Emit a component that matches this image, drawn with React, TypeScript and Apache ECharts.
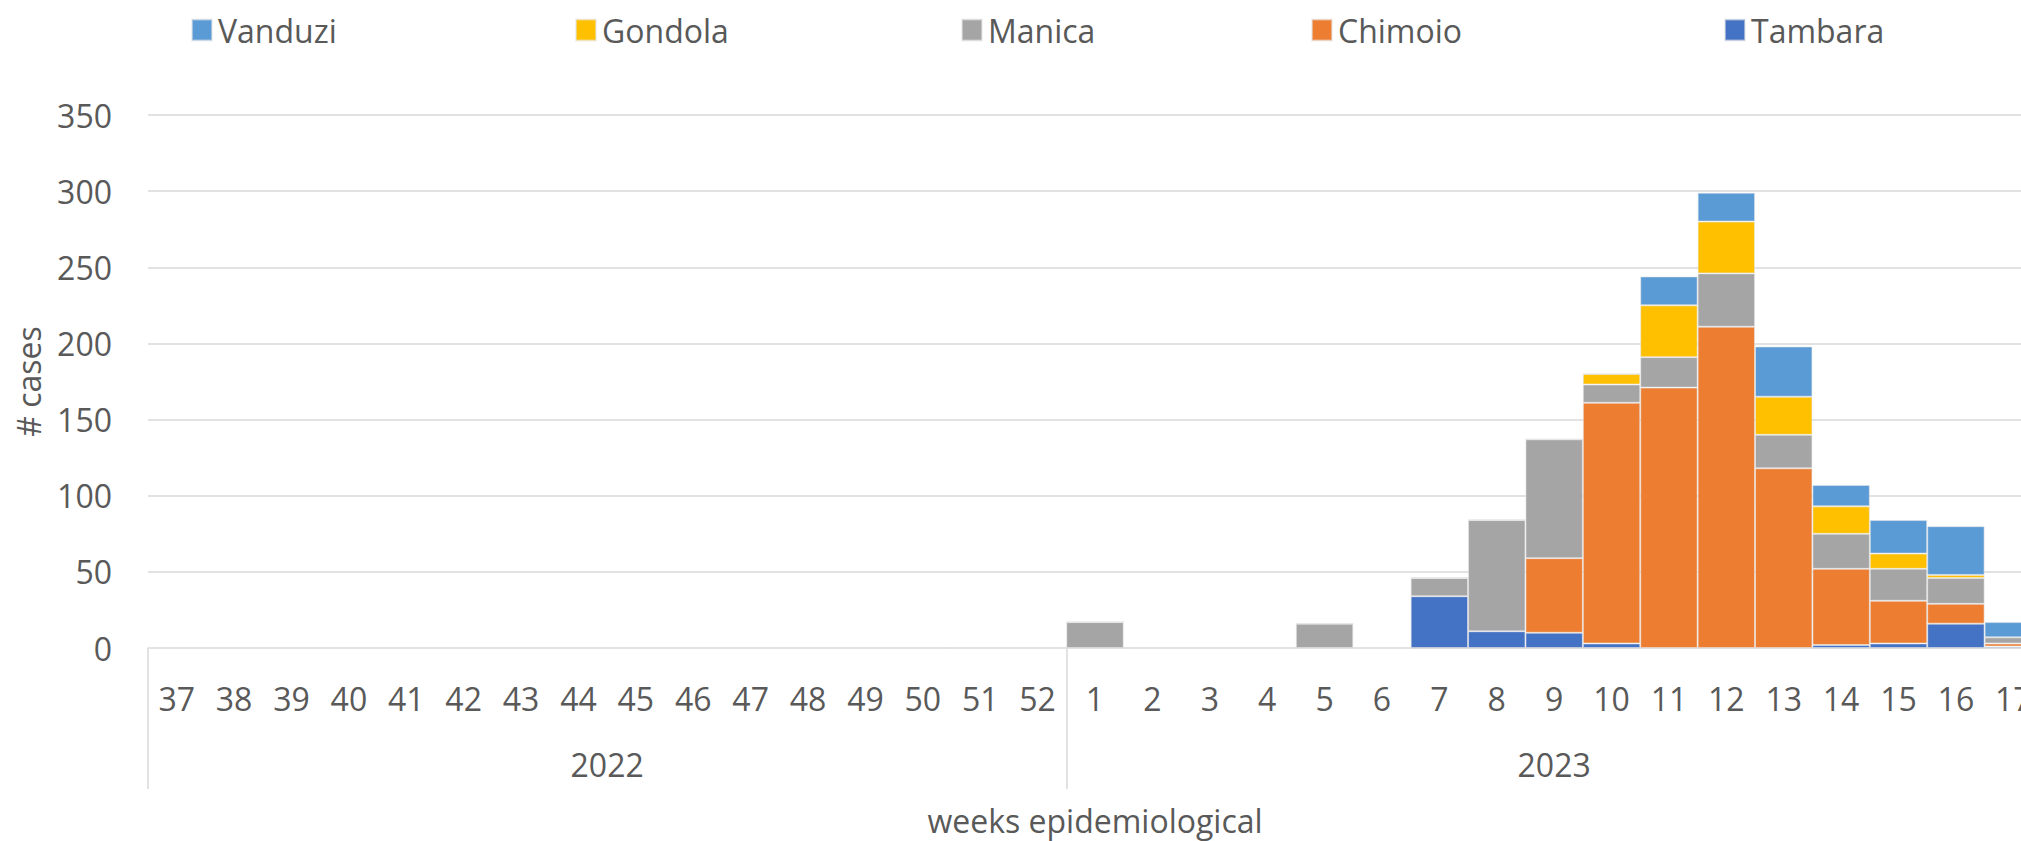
import React, { useEffect, useRef } from 'react';
import * as echarts from 'echarts';

const weeks2022 = ['37', '38', '39', '40', '41', '42', '43', '44', '45', '46', '47', '48', '49', '50', '51', '52'];
const weeks2023 = ['1', '2', '3', '4', '5', '6', '7', '8', '9', '10', '11', '12', '13', '14', '15', '16', '17'];
const years = ['2022', '2023'];
const categories = [...weeks2022, ...weeks2023];

const legendOrder = ['Vanduzi', 'Gondola', 'Manica', 'Chimoio', 'Tambara'];

// values per week: 16 weeks of 2022 then 17 weeks of 2023
const tambara = [0, 0, 0, 0, 0, 0, 0, 0, 0, 0, 0, 0, 0, 0, 0, 0,
  0, 0, 0, 0, 0, 0, 34, 11, 10, 3, 0, 0, 0, 2, 3, 16, 1];
const chimoio = [0, 0, 0, 0, 0, 0, 0, 0, 0, 0, 0, 0, 0, 0, 0, 0,
  0, 0, 0, 0, 0, 0, 0, 0, 49, 158, 171, 211, 118, 50, 28, 13, 2];
const manica = [0, 0, 0, 0, 0, 0, 0, 0, 0, 0, 0, 0, 0, 0, 0, 0,
  17, 0, 0, 0, 16, 0, 12, 73, 78, 12, 20, 35, 22, 23, 21, 17, 4];
const gondola = [0, 0, 0, 0, 0, 0, 0, 0, 0, 0, 0, 0, 0, 0, 0, 0,
  0, 0, 0, 0, 0, 0, 0, 0, 0, 7, 34, 34, 25, 18, 10, 2, 0];
const vanduzi = [0, 0, 0, 0, 0, 0, 0, 0, 0, 0, 0, 0, 0, 0, 0, 0,
  0, 0, 0, 0, 0, 0, 0, 0, 0, 0, 19, 19, 33, 14, 22, 32, 10];

const seriesDefs = [
  { name: 'Tambara', data: tambara, color: '#4472C4' },
  { name: 'Chimoio', data: chimoio, color: '#ED7D31' },
  { name: 'Manica', data: manica, color: '#A5A5A5' },
  { name: 'Gondola', data: gondola, color: '#FFC000' },
  { name: 'Vanduzi', data: vanduzi, color: '#5B9BD5' },
];

const FONT = "'Open Sans', sans-serif";
const TEXT = '#595959';
const GRID = '#d9d9d9';

export default function App() {
  const ref = useRef<HTMLDivElement>(null);

  useEffect(() => {
    if (!ref.current) return;
    const chart = echarts.init(ref.current, null, { renderer: 'svg' });

    const yearCounts = [weeks2022.length, weeks2023.length];
    const boundaries: number[] = [0];
    yearCounts.forEach((c) => boundaries.push(boundaries[boundaries.length - 1] + c));
    const centers = yearCounts.map((c, i) => boundaries[i] + c / 2);

    const legendLefts = [186, 570, 956, 1306, 1719];

    const option: any = {
      animation: false,
      textStyle: { fontFamily: FONT },
      legend: legendOrder.map((n, i) => ({
        data: [n],
        left: legendLefts[i],
        top: 9,
        icon: 'rect',
        itemWidth: 20,
        itemHeight: 21,
        itemGap: 0,
        selectedMode: false,
        textStyle: { fontSize: 32, color: TEXT, fontFamily: FONT, padding: [0, 0, 0, 1] },
      })),
      grid: { left: 148, top: 115, right: 28, bottom: 189, containLabel: false },
      xAxis: [
        {
          type: 'category',
          data: categories,
          position: 'bottom',
          axisLine: { show: true, lineStyle: { color: GRID, width: 1.5 } },
          axisTick: { show: false },
          axisLabel: { interval: 0, fontSize: 32, color: TEXT, fontFamily: FONT, margin: 34 },
          splitLine: { show: false },
        },
        {
          type: 'value',
          min: 0,
          max: categories.length,
          position: 'bottom',
          axisLine: { show: false },
          splitLine: { show: false },
          axisTick: {
            show: true,
            customValues: boundaries,
            length: 141,
            lineStyle: { color: GRID, width: 1.5 },
          },
          axisLabel: {
            customValues: centers,
            formatter: (v: number) => {
              const idx = centers.indexOf(v);
              return idx >= 0 ? years[idx] : '';
            },
            fontSize: 32,
            color: TEXT,
            fontFamily: FONT,
            margin: 100,
          },
          name: 'weeks epidemiological',
          nameLocation: 'middle',
          nameGap: 156,
          nameTextStyle: { fontSize: 32, color: TEXT, fontFamily: FONT },
        },
      ],
      yAxis: {
        type: 'value',
        min: 0,
        max: 350,
        interval: 50,
        axisLine: { show: false },
        axisTick: { show: false },
        axisLabel: { fontSize: 32, color: TEXT, fontFamily: FONT, margin: 36 },
        splitLine: { lineStyle: { color: GRID, width: 1.5 } },
        name: '# cases',
        nameLocation: 'middle',
        nameGap: 104,
        nameTextStyle: { fontSize: 32, color: TEXT, fontFamily: FONT },
      },
      series: seriesDefs.map((s) => ({
        name: s.name,
        type: 'bar',
        stack: 'total',
        xAxisIndex: 0,
        data: s.data,
        barCategoryGap: '0%',
        itemStyle: { color: s.color, borderColor: 'rgba(230,230,230,0.55)', borderWidth: 1 },
        emphasis: { disabled: true },
      })),
    };

    chart.setOption(option);
    return () => chart.dispose();
  }, []);

  return (
    <div style={{ position: 'fixed', left: 0, top: 0, width: 2021, height: 841, overflow: 'hidden', background: '#ffffff' }}>
      <div ref={ref} style={{ width: 2070, height: 841 }} />
    </div>
  );
}
